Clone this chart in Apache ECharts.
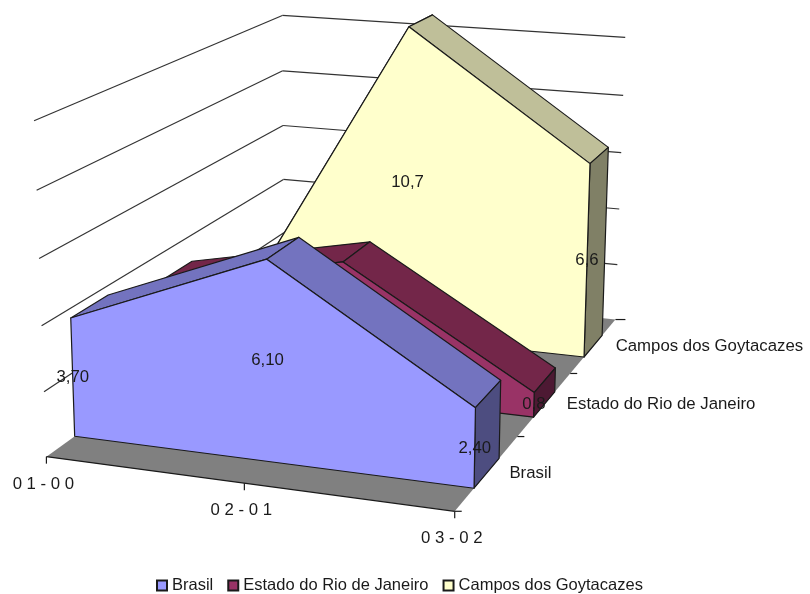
<!DOCTYPE html>
<html>
<head>
<meta charset="utf-8">
<title>Chart</title>
<script src="https://cdn.jsdelivr.net/npm/echarts@6/dist/echarts.min.js"></script>
<style>
  html, body { margin: 0; padding: 0; background: #fff; }
  #chart { width: 810px; height: 594px; }
</style>
</head>
<body>
<div id="chart"></div>
<script>
const categories = ['0 1 - 0 0', '0 2 - 0 1', '0 3 - 0 2'];
const seriesNames = ['Brasil', 'Estado do Rio de Janeiro', 'Campos dos Goytacazes'];
const brasil = [3.7, 6.1, 2.4];
const rio = [3.1, 4.35, 0.8];
const campos = [0.3, 10.7, 6.6];
const brasilLabels = ['3,70', '6,10', '2,40'];
const rioLabels = ['', '', '0,8'];
const camposLabels = ['', '10,7', '6,6'];
const valueTicks = [2, 4, 6, 8, 10];

const allValues = [brasil, rio, campos];
const allLabels = [brasilLabels, rioLabels, camposLabels];

// front, top, end colours of each slab
const palette = [
    { front: '#9999ff', top: '#7373bf', end: '#4d4d80' },
    { front: '#993366', top: '#732649', end: '#4d1933' },
    { front: '#ffffcc', top: '#bfbf99', end: '#808066' }
];
const edgeColor = '#1a1a1a';
const textColor = '#1a1a1a';
const fontSize = 16.8;

// depth of a slab inside its band, as fraction of the band
const slabFront = 0.29;
const slabBack = 0.69;

// camera: box position (category, value, depth) -> pixel, fitted on the corners of the box
const calibration = [
    [0, 0, 0, 47, 457], [2, 0, 0, 455, 510], [0, 0, 1, 285, 285], [2, 0, 1, 613, 320],
    [0, 10, 0, 35, 122], [0, 10, 1, 282, 15], [2, 10, 1, 625, 37],
    [1, 0, 0, 243, 483], [2, 0, 1 / 3, 518, 437], [2, 0, 2 / 3, 572, 374],
    [0, 4, 0, 40, 325], [2, 4, 1, 620, 209]
];

const fitCamera = () => {
    const rows = [];
    const rhs = [];
    calibration.forEach(([x, y, z, u, v]) => {
        rows.push([x, y, z, 1, 0, 0, 0, 0, -u * x, -u * y, -u * z]);
        rhs.push(u);
        rows.push([0, 0, 0, 0, x, y, z, 1, -v * x, -v * y, -v * z]);
        rhs.push(v);
    });
    const n = 11;
    const m = [];
    for (let i = 0; i < n; i++) {
        m.push(new Array(n + 1).fill(0));
        rows.forEach((r, k) => {
            for (let j = 0; j < n; j++) m[i][j] += r[i] * r[j];
            m[i][n] += r[i] * rhs[k];
        });
    }
    for (let i = 0; i < n; i++) {
        let p = i;
        for (let k = i + 1; k < n; k++) if (Math.abs(m[k][i]) > Math.abs(m[p][i])) p = k;
        [m[i], m[p]] = [m[p], m[i]];
        for (let k = 0; k < n; k++) {
            if (k === i) continue;
            const f = m[k][i] / m[i][i];
            for (let j = i; j <= n; j++) m[k][j] -= f * m[i][j];
        }
    }
    return m.map((r, i) => r[n] / r[i]);
};
const cam = fitCamera();

const project = (api, x, y, z) => {
    const d = cam[8] * x + cam[9] * y + cam[10] * z + 1;
    return api.coord([
        (cam[0] * x + cam[1] * y + cam[2] * z + cam[3]) / d,
        (cam[4] * x + cam[5] * y + cam[6] * z + cam[7]) / d
    ]);
};

const depthOf = (s, frac) => (s + frac) / 3;

const poly = (points, fill) => ({
    type: 'polygon',
    shape: { points: points },
    style: { fill: fill, stroke: edgeColor, lineWidth: 1.2, lineJoin: 'round' }
});
const seg = (a, b, color) => ({
    type: 'line',
    shape: { x1: a[0], y1: a[1], x2: b[0], y2: b[1] },
    style: { stroke: color || edgeColor, lineWidth: 1.2 }
});
const label = (text, x, y, align) => ({
    type: 'text',
    style: {
        text: text, x: x, y: y, align: align || 'center', verticalAlign: 'middle',
        fontFamily: '"Liberation Sans", Arial, sans-serif', fontSize: fontSize, fill: textColor
    }
});

// floor, gridlines, ticks and axis labels
const renderFrame = (params, api) => {
    const last = categories.length - 1;
    const children = [];
    const floor = [
        project(api, 0, 0, 0), project(api, last, 0, 0),
        project(api, last, 0, 1), project(api, 0, 0, 1)
    ];
    children.push({ type: 'polygon', shape: { points: floor }, style: { fill: '#808080' } });
    valueTicks.forEach((t) => {
        const back = project(api, 0, t, 1);
        children.push(seg(project(api, 0, t, 0), back, '#333'));
        children.push(seg(back, project(api, last, t, 1), '#333'));
    });
    children.push(seg(floor[0], floor[1]));
    categories.forEach((c, i) => {
        const p = project(api, i, 0, 0);
        children.push(seg(p, [p[0], p[1] + 7]));
        children.push(label(c, p[0] - 3, p[1] + 27.5));
    });
    seriesNames.forEach((name, s) => {
        const tick = project(api, last, 0, s / 3);
        children.push(seg(tick, [tick[0] + 7, tick[1]]));
        const mid = project(api, last, 0, (s + 0.5) / 3);
        children.push(label(name, mid[0] + 22, mid[1] + 1, 'left'));
    });
    const end = project(api, last, 0, 1);
    children.push(seg(end, [end[0] + 10, end[1]]));
    return { type: 'group', children: children };
};

// one slab: sloping tops first, then end cap and front wall on the last item
const renderSlab = (s) => (params, api) => {
    const values = allValues[s];
    const colors = palette[s];
    const zf = depthOf(s, slabFront);
    const zb = depthOf(s, slabBack);
    const i = params.dataIndex;
    const last = values.length - 1;
    const children = [];
    if (i < last) {
        children.push(poly([
            project(api, i, values[i], zf), project(api, i + 1, values[i + 1], zf),
            project(api, i + 1, values[i + 1], zb), project(api, i, values[i], zb)
        ], colors.top));
    } else {
        children.push(poly([
            project(api, last, values[last], zf), project(api, last, values[last], zb),
            project(api, last, 0, zb), project(api, last, 0, zf)
        ], colors.end));
        const face = values.map((v, k) => project(api, k, v, zf));
        face.push(project(api, last, 0, zf), project(api, 0, 0, zf));
        children.push(poly(face, colors.front));
    }
    return { type: 'group', children: children };
};

const renderLabels = (params, api) => {
    const children = [];
    allLabels.forEach((labels, s) => {
        labels.forEach((text, k) => {
            if (!text) return;
            const z = depthOf(s, slabFront);
            const top = project(api, k, allValues[s][k], z);
            const base = project(api, k, 0, z);
            children.push(label(text, (top[0] + base[0]) / 2, (top[1] + base[1]) / 2));
        });
    });
    return { type: 'group', children: children };
};

const chart = echarts.init(document.getElementById('chart'), null, { renderer: 'canvas' });

chart.setOption({
    animation: false,
    backgroundColor: '#fff',
    grid: { left: 0, right: 0, top: 0, bottom: 0 },
    xAxis: { type: 'value', min: 0, max: 810, show: false },
    yAxis: { type: 'value', min: 0, max: 594, inverse: true, show: false },
    legend: {
        data: seriesNames,
        top: 572,
        left: 151,
        icon: 'rect',
        itemWidth: 10,
        itemHeight: 10,
        itemGap: 14,
        textStyle: { fontFamily: '"Liberation Sans", Arial, sans-serif', fontSize: 16.5, color: textColor }
    },
    series: [
        { type: 'custom', name: 'frame', z: 1, clip: false, silent: true, data: [[0, 0]], renderItem: renderFrame },
        ...seriesNames.map((name, s) => ({
            type: 'custom',
            name: name,
            z: 5 - s,
            clip: false,
            itemStyle: { color: palette[s].front, borderColor: edgeColor, borderWidth: 1 },
            data: allValues[s].map((v, k) => [k, v]),
            renderItem: renderSlab(s)
        })),
        { type: 'custom', name: 'labels', z: 9, clip: false, silent: true, data: [[0, 0]], renderItem: renderLabels }
    ]
});
</script>
</body>
</html>
